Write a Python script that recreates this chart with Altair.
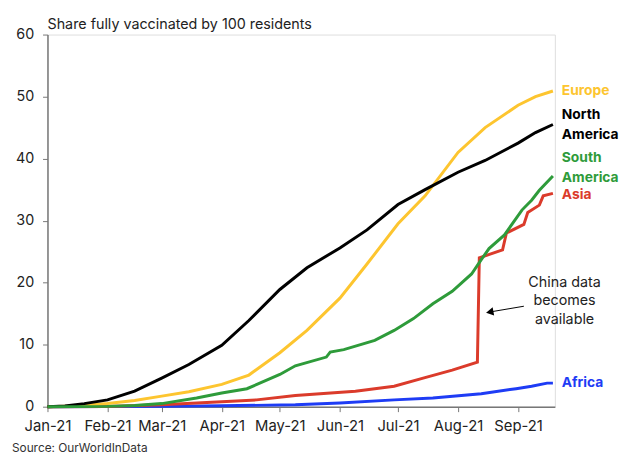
import altair as alt
import pandas as pd

# ---- data ----
series_names = ["Africa", "Asia", "Europe", "North America", "South America"]
series_colors = ["#1E3CF5", "#DB3B2B", "#FDC52F", "#000000", "#2E9B3A"]

af_dates = ["2021-01-01", "2021-03-01", "2021-04-01", "2021-05-09", "2021-06-01", "2021-06-29",
            "2021-07-19", "2021-08-13", "2021-08-31", "2021-09-08", "2021-09-16", "2021-09-19"]
af_vals = [0, 0.05, 0.15, 0.3, 0.6, 1.1, 1.4, 2.1, 2.9, 3.3, 3.8, 3.8]

as_dates = ["2021-01-01", "2021-02-01", "2021-03-01", "2021-04-01", "2021-04-19", "2021-05-09",
            "2021-06-09", "2021-06-29", "2021-07-14", "2021-07-29", "2021-08-11", "2021-08-12",
            "2021-08-24", "2021-08-26", "2021-09-04", "2021-09-06", "2021-09-12", "2021-09-14",
            "2021-09-19"]
as_vals = [0, 0.02, 0.3, 0.8, 1.1, 1.8, 2.5, 3.3, 4.6, 5.9, 7.2, 24.0, 25.3, 28.0, 29.4, 31.3,
           32.5, 34.0, 34.4]

eu_dates = ["2021-01-01", "2021-01-15", "2021-02-01", "2021-02-15", "2021-03-01", "2021-03-15",
            "2021-04-01", "2021-04-15", "2021-05-01", "2021-05-15", "2021-06-01", "2021-06-15",
            "2021-07-01", "2021-07-15", "2021-08-01", "2021-08-15", "2021-09-01", "2021-09-10",
            "2021-09-19"]
eu_vals = [0, 0.1, 0.5, 1.0, 1.7, 2.4, 3.6, 5.1, 8.7, 12.3, 17.5, 23.0, 29.5, 34.0, 41.0, 45.0,
           48.6, 50.0, 50.9]

na_dates = ["2021-01-01", "2021-01-10", "2021-01-20", "2021-02-01", "2021-02-15", "2021-03-01",
            "2021-03-15", "2021-04-01", "2021-04-15", "2021-05-01", "2021-05-15", "2021-06-01",
            "2021-06-15", "2021-07-01", "2021-07-15", "2021-08-01", "2021-08-15", "2021-09-01",
            "2021-09-10", "2021-09-19"]
na_vals = [0, 0.1, 0.5, 1.1, 2.5, 4.6, 6.8, 9.9, 13.9, 18.9, 22.4, 25.6, 28.5, 32.6, 35.0, 37.8,
           39.7, 42.5, 44.2, 45.5]

sa_dates = ["2021-01-01", "2021-02-01", "2021-02-15", "2021-03-01", "2021-03-19", "2021-04-01",
            "2021-04-14", "2021-05-01", "2021-05-09", "2021-05-25", "2021-05-27", "2021-06-03",
            "2021-06-19", "2021-06-29", "2021-07-09", "2021-07-19", "2021-07-29", "2021-08-08",
            "2021-08-13", "2021-08-17", "2021-08-25", "2021-09-03", "2021-09-08", "2021-09-12",
            "2021-09-19"]
sa_vals = [0, 0.05, 0.2, 0.5, 1.4, 2.2, 2.9, 5.2, 6.6, 8.0, 8.8, 9.2, 10.7, 12.3, 14.2, 16.6, 18.6,
           21.4, 23.7, 25.5, 27.7, 31.7, 33.3, 34.9, 37.2]

# end labels (value = position of the first text line)
label_series = ["Europe", "North America", "South America", "Asia", "Africa"]
label_texts = ["Europe", "North\nAmerica", "South\nAmerica", "Asia", "Africa"]
label_y = [50.9, 47.0, 40.1, 34.1, 3.8]
label_date = "2021-09-19"

# annotation
note_text = "China data\nbecomes\navailable"
note_date = "2021-09-25"
note_y = 20.0
arrow_from = ("2021-09-04", 16.2)
arrow_to = ("2021-08-18", 15.3)

title_text = "Share fully vaccinated by 100 residents"
source_text = "Source: OurWorldInData"

x_domain = ["2021-01-01", "2021-09-20"]
y_ticks = [0, 10, 20, 30, 40, 50, 60]
month_ticks = [alt.DateTime(year=2021, month=m, date=1, utc=True) for m in range(1, 10)]

# ---- build tables ----
rows = []
for name, ds, vs in [("Africa", af_dates, af_vals), ("Asia", as_dates, as_vals),
                     ("Europe", eu_dates, eu_vals), ("North America", na_dates, na_vals),
                     ("South America", sa_dates, sa_vals)]:
    for d, v in zip(ds, vs):
        rows.append({"series": name, "date": d, "value": v, "ord": series_names.index(name)})
df = pd.DataFrame(rows)

labels_df = pd.DataFrame({"series": label_series, "text": label_texts, "value": label_y,
                          "date": [label_date] * len(label_series)})
note_df = pd.DataFrame({"date": [note_date], "value": [note_y], "text": [note_text]})
arrow_df = pd.DataFrame({"date": [arrow_from[0]], "value": [arrow_from[1]],
                         "date2": [arrow_to[0]], "value2": [arrow_to[1]]})
head_df = pd.DataFrame({"date": [arrow_to[0]], "value": [arrow_to[1]]})

FONT = "Inter"
color_scale = alt.Scale(domain=series_names, range=series_colors)
x_scale = alt.Scale(type="utc", domain=x_domain)
y_scale = alt.Scale(domain=[0, 60], nice=False)

x_axis = alt.Axis(values=month_ticks, format="%b-%y", title=None, grid=False, labelFlush=False,
                  tickSize=5, labelPadding=7, labelFontSize=15, labelFont=FONT,
                  labelColor="#222222", domainColor="#777777", tickColor="#777777",
                  domainWidth=1.5)
y_axis = alt.Axis(values=y_ticks, title=None, grid=False, tickSize=5, labelPadding=9,
                  labelFontSize=14.5, labelFont=FONT, labelColor="#222222",
                  domainColor="#777777", tickColor="#777777", domainWidth=1.5)

lines = alt.Chart(df).mark_line(strokeWidth=3).encode(
    x=alt.X("date:T", scale=x_scale, axis=x_axis),
    y=alt.Y("value:Q", scale=y_scale, axis=y_axis),
    color=alt.Color("series:N", scale=color_scale, legend=None),
    detail="series:N",
    order="ord:Q",
)

end_labels = alt.Chart(labels_df).mark_text(
    align="left", baseline="middle", dx=9, fontSize=14, fontWeight="bold", font=FONT,
    lineBreak="\n", lineHeight=20
).encode(
    x=alt.X("date:T", scale=x_scale),
    y=alt.Y("value:Q", scale=y_scale),
    text="text:N",
    color=alt.Color("series:N", scale=color_scale, legend=None),
)

note = alt.Chart(note_df).mark_text(
    align="center", baseline="middle", fontSize=14.5, font=FONT, color="#222222",
    lineBreak="\n", lineHeight=19
).encode(
    x=alt.X("date:T", scale=x_scale),
    y=alt.Y("value:Q", scale=y_scale),
    text="text:N",
)

arrow = alt.Chart(arrow_df).mark_rule(color="#000000", strokeWidth=1).encode(
    x=alt.X("date:T", scale=x_scale), x2="date2:T",
    y=alt.Y("value:Q", scale=y_scale), y2="value2:Q",
)
head = alt.Chart(head_df).mark_point(shape="triangle", size=75, filled=True, color="#000000",
                                     angle=260, opacity=1).encode(
    x=alt.X("date:T", scale=x_scale),
    y=alt.Y("value:Q", scale=y_scale),
)

title = alt.Chart(pd.DataFrame({"t": [title_text]})).mark_text(
    align="left", baseline="alphabetic", fontSize=14.5, font=FONT, color="#222222"
).encode(x=alt.value(0), y=alt.value(-6), text="t:N")

source = alt.Chart(pd.DataFrame({"t": [source_text]})).mark_text(
    align="left", baseline="alphabetic", fontSize=12, font=FONT, color="#333333"
).encode(x=alt.value(-36), y=alt.value(423), text="t:N")

chart = alt.layer(lines, end_labels, note, arrow, head, title, source).properties(
    width=514, height=377,
    autosize=alt.AutoSizeParams(type="none"),
    padding={"left": 40, "top": 24, "right": 66, "bottom": 44},
).configure_view(stroke=None).configure(background="white")

chart.save("out.html", embed_options={"renderer": "svg", "actions": False})
